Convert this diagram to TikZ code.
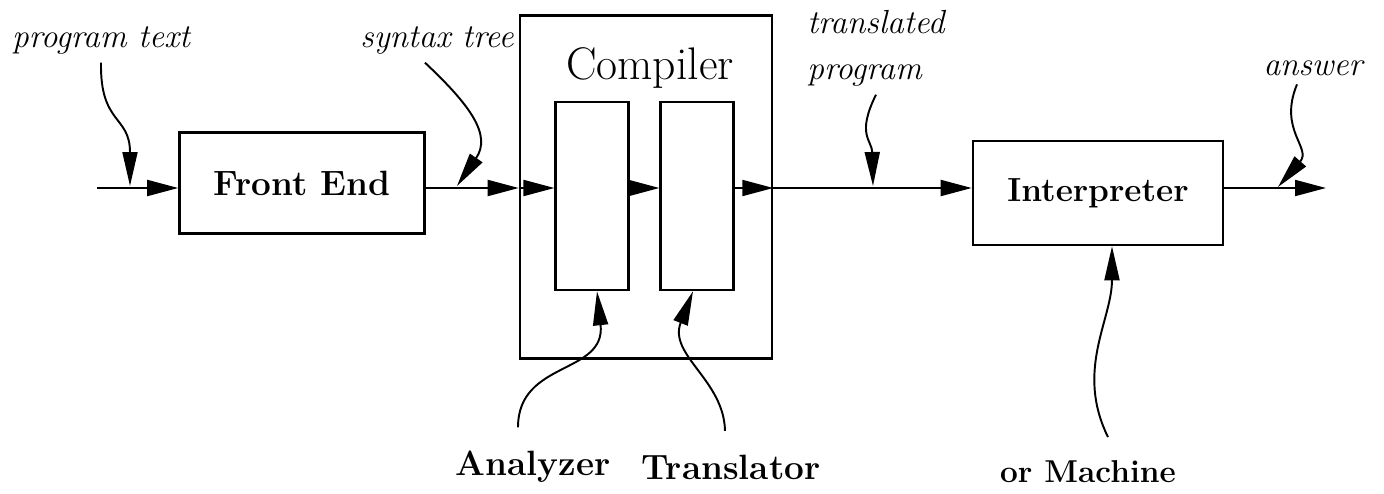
\documentclass[tikz,border=0pt]{standalone}
\usepackage{xcolor}
\usepackage{tikz}
\usetikzlibrary{arrows.meta, positioning}

\begin{document}
\begin{tikzpicture}[
    x=0.02cm, y=-0.02cm,
    % Styles
    stagebox/.style={rectangle, draw=black, line width=1.5pt, fill=white, align=center, inner sep=0pt},
    partbox/.style={rectangle, draw=black, line width=1.5pt, fill=white, minimum width=1.45cm, minimum height=3.76cm, inner sep=0pt},
    stagetext/.style={font=\fontsize{20}{24}\selectfont\bfseries},
    itemlabel/.style={font=\fontsize{19}{26}\selectfont\itshape, align=left, inner sep=2pt},
    partlabel/.style={font=\fontsize{20}{24}\selectfont\bfseries, inner sep=2pt},
    flow/.style={-{Triangle[length=0.62cm, width=0.32cm]}, line width=1.1pt},
    pointer/.style={-{Triangle[length=0.68cm, width=0.3cm]}, line width=1.1pt}
]

\useasboundingbox (0,0) rectangle (1384,494);

% Stage boxes
\node[stagebox, stagetext, minimum width=4.9cm, minimum height=2.02cm] (frontend) at (302,183) {Front End};
\node[stagebox, minimum width=5.04cm, minimum height=6.86cm] (compiler) at (646,187) {};
\node[font=\fontsize{26}{30}\selectfont] (comptitle) at (650,68) {Compiler};
\node[partbox] (analyzer) at (592,196) {};
\node[partbox] (translator) at (697,196) {};
\node[stagebox, stagetext, font=\fontsize{19}{24}\selectfont\bfseries, minimum width=5.0cm, minimum height=2.08cm] (interp) at (1098,193) {Interpreter};

% Main line
\coordinate (input) at (97,188);
\coordinate (output) at (1326,188);
\draw[flow] (input) -- (input -| frontend.west);
\draw[flow] (frontend.east |- input) -- (input -| compiler.west);
\draw[flow] (compiler.west |- input) -- (input -| analyzer.west);
\draw[flow] (analyzer.east |- input) -- (input -| translator.west);
\draw[flow] (translator.east |- input) -- (input -| compiler.east);
\draw[flow] (compiler.east |- input) -- (input -| interp.west);
\draw[flow] (interp.east |- input) -- (output);

% Labels of the data
\node[itemlabel] (ptext) at (101,40) {program text};
\node[itemlabel] (stree) at (437,40) {syntax tree};
\node[itemlabel] (tprog) at (876,48) {translated\\program};
\node[itemlabel] (answer) at (1313,68) {answer};

\coordinate (ptextpin) at (130,186);
\coordinate (streepin) at (457,186);
\coordinate (tprogpin) at (873,186);
\coordinate (answerpin) at (1278,187);
\draw[pointer] ([yshift=-0.1cm]ptext.south) .. controls (100,125) and (130,115) .. (ptextpin);
\draw[pointer] ([xshift=-0.24cm, yshift=-0.1cm]stree.south) .. controls (470,105) and (492,135) .. (streepin);
\draw[pointer] ([yshift=-0.1cm]tprog.south) .. controls (856,135) and (872,140) .. (tprogpin);
\draw[pointer] ([xshift=-0.32cm, yshift=-0.1cm]answer.south) .. controls (1278,130) and (1312,148) .. (answerpin);

% Labels of the parts
\node[partlabel] (alabel) at (533,467) {Analyzer};
\node[partlabel] (tlabel) at (731,467) {Translator};
\node[partlabel, font=\fontsize{18}{22}\selectfont\bfseries] (mlabel) at (1088,472) {or Machine};

\draw[pointer] ([xshift=-0.3cm, yshift=0.4cm]alabel.north) .. controls (518,360) and (606,375) .. ([xshift=0.1cm]analyzer.south);
\draw[pointer] ([xshift=-0.12cm, yshift=0.4cm]tlabel.north) .. controls (724,380) and (668,355) .. ([xshift=-0.08cm]translator.south);
\draw[pointer] ([xshift=0.4cm, yshift=0.4cm]mlabel.north) .. controls (1075,370) and (1112,320) .. ([xshift=0.28cm]interp.south);

\end{tikzpicture}
\end{document}
